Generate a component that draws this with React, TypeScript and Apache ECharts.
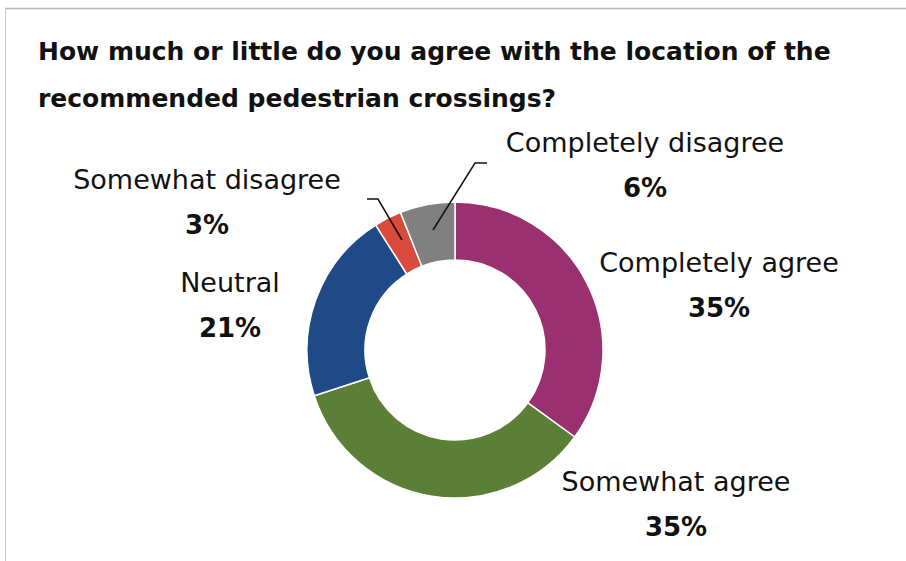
import React, { useEffect, useRef } from "react";
import * as echarts from "echarts";

const titleText = "How much or little do you agree with the location of the\nrecommended pedestrian crossings?";
const categories = ["Completely agree", "Somewhat agree", "Neutral", "Somewhat disagree", "Completely disagree"];
const values = [35, 35, 21, 3, 6];
const colors = ["#9A3070", "#5B7F36", "#1F4A87", "#D84A3C", "#808080"];

// label layout (positions only)
const labelPos: [number, number][] = [
  [719, 285],
  [676, 504],
  [230, 305],
  [207, 202],
  [645, 165],
];
const leaderLines: number[][][] = [
  [[402, 240], [378, 199], [367, 199]],
  [[433, 230], [475, 163], [487, 163]],
];

export default function App() {
  const ref = useRef<HTMLDivElement>(null);
  useEffect(() => {
    if (!ref.current) return;
    const chart = echarts.init(ref.current, null, { renderer: "svg" });
    const font = "'DejaVu Sans', sans-serif";
    chart.setOption({
      animation: false,
      backgroundColor: "#ffffff",
      title: {
        text: titleText,
        left: 38,
        top: 28,
        padding: 0,
        textStyle: {
          fontFamily: font,
          fontWeight: "bold",
          fontSize: 25,
          lineHeight: 47,
          color: "#111111",
        },
      },
      graphic: [
        { type: "line", shape: { x1: 5, y1: 8.5, x2: 906, y2: 8.5 }, style: { stroke: "#b5b5b5", lineWidth: 1.5 } },
        { type: "line", shape: { x1: 5.5, y1: 8, x2: 5.5, y2: 561 }, style: { stroke: "#c8c8c8", lineWidth: 1 } },
        ...leaderLines.map((pts) => ({
          type: "polyline",
          z: 100,
          shape: { points: pts },
          style: { stroke: "#111111", lineWidth: 1.5, fill: null },
        })),
      ],
      series: [
        {
          type: "pie",
          center: [455, 350],
          radius: [90, 148],
          startAngle: 90,
          clockwise: true,
          avoidLabelOverlap: false,
          itemStyle: { borderColor: "#ffffff", borderWidth: 1.5 },
          label: {
            show: true,
            position: "outside",
            formatter: "{n|{b}}\n{p|{c}%}",
            rich: {
              n: { fontFamily: font, fontSize: 27, lineHeight: 46, color: "#111111" },
              p: { fontFamily: font, fontSize: 26, fontWeight: "bold", lineHeight: 46, color: "#111111" },
            },
          },
          labelLine: { show: false },
          labelLayout: (params: any) => {
            const i = params.dataIndex;
            return {
              x: labelPos[i][0],
              y: labelPos[i][1],
              align: "center",
              verticalAlign: "middle",
            };
          },
          data: categories.map((name, i) => ({
            name,
            value: values[i],
            itemStyle: { color: colors[i] },
          })),
        },
      ],
    });
    return () => chart.dispose();
  }, []);
  return (
    <div
      ref={ref}
      style={{ position: "fixed", left: 0, top: 0, width: 906, height: 561 }}
    />
  );
}
